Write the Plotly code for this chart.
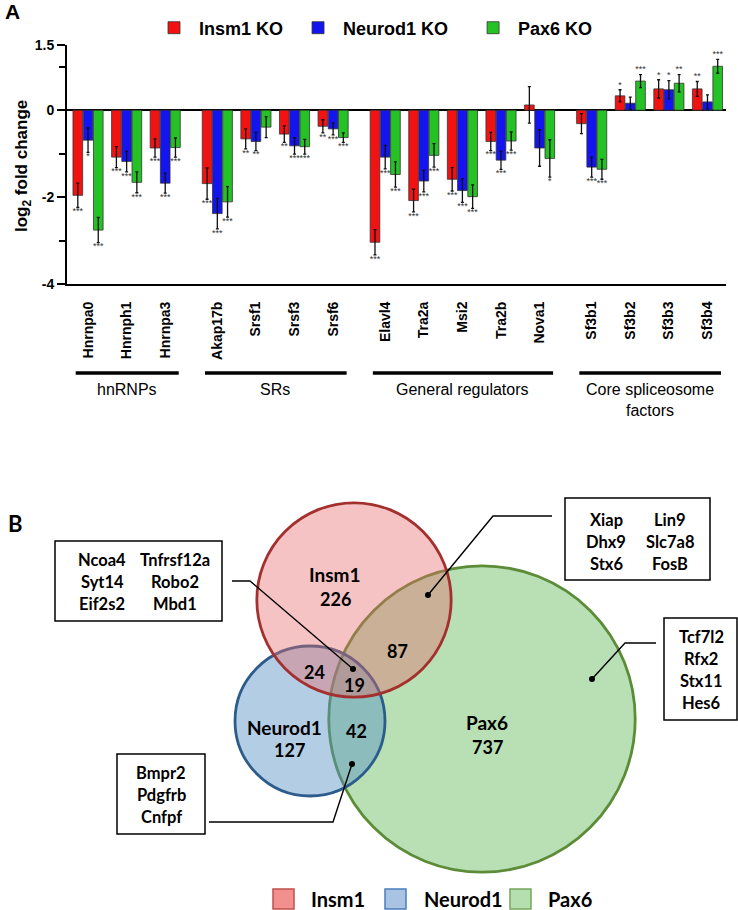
import numpy as np
import plotly.graph_objects as go

# ---- panel A data -------------------------------------------------------
genes = ["Hnrnpa0", "Hnrnph1", "Hnrnpa3",
         "Akap17b", "Srsf1", "Srsf3", "Srsf6",
         "Elavl4", "Tra2a", "Msi2", "Tra2b", "Nova1",
         "Sf3b1", "Sf3b2", "Sf3b3", "Sf3b4"]
group_names = ["hnRNPs", "SRs", "General regulators", "Core spliceosome<br>factors"]
group_sizes = [3, 4, 5, 4]

series_names = ["Insm1 KO", "Neurod1 KO", "Pax6 KO"]

insm1_lfc = [-1.96, -1.08, -0.87, -1.69, -0.66, -0.55, -0.37, -3.04, -2.08, -1.59, -0.72, 0.12, -0.31, 0.33, 0.49, 0.49]
insm1_err = [0.28, 0.24, 0.21, 0.36, 0.23, 0.19, 0.15, 0.29, 0.26, 0.27, 0.21, 0.42, 0.23, 0.14, 0.21, 0.17]
insm1_sig = ["***", "***", "***", "***", "**", "**", "**", "***", "***", "***", "***", "", "", "*", "*", "**"]

neurod1_lfc = [-0.69, -1.18, -1.68, -2.38, -0.72, -0.82, -0.43, -1.08, -1.63, -1.85, -1.15, -0.87, -1.31, 0.16, 0.47, 0.19]
neurod1_err = [0.28, 0.24, 0.23, 0.35, 0.21, 0.19, 0.14, 0.27, 0.25, 0.27, 0.21, 0.42, 0.23, 0.14, 0.21, 0.16]
neurod1_sig = ["*", "***", "***", "***", "**", "***", "***", "***", "***", "***", "***", "", "***", "", "*", ""]

pax6_lfc = [-2.76, -1.66, -0.86, -2.11, -0.39, -0.84, -0.63, -1.48, -1.04, -1.99, -0.71, -1.11, -1.36, 0.67, 0.62, 1.01]
pax6_err = [0.29, 0.24, 0.22, 0.35, 0.24, 0.17, 0.11, 0.29, 0.27, 0.27, 0.21, 0.43, 0.23, 0.15, 0.20, 0.16]
pax6_sig = ["***", "***", "***", "***", "", "***", "***", "***", "***", "***", "***", "*", "***", "***", "**", "***"]

y_ticks = [1.5, 0, -2, -4]
y_minor = [1, -1, -3]

# ---- panel B data -------------------------------------------------------
venn_sets = ["Insm1", "Neurod1", "Pax6"]
only_counts = [226, 127, 737]
pair_counts = {"Insm1&Neurod1": 24, "Insm1&Pax6": 87, "Neurod1&Pax6": 42}
triple_count = 19

genes_all_three = [["Ncoa4", "Syt14", "Eif2s2"], ["Tnfrsf12a", "Robo2", "Mbd1"]]
genes_insm1_pax6 = [["Xiap", "Dhx9", "Stx6"], ["Lin9", "Slc7a8", "FosB"]]
genes_pax6_only = [["Tcf7l2", "Rfx2", "Stx11", "Hes6"]]
genes_neurod1_pax6 = [["Bmpr2", "Pdgfrb", "Cnfpf"]]

# ---- style / layout constants ----------------------------------------------
W, H = 738, 910
ARIAL = "Liberation Sans, Arial, sans-serif"
CAL = "Lato, Open Sans, sans-serif"
bar_colors = ["#f21212", "#1414f0", "#25c225"]
bar_width = 0.25
bar_offsets = [-0.39, -0.125, 0.14]
group_gap = 0.35
NB = "\u00a0"
legend_pad = [2, 4, 0]

# x positions of the categories, with a gap between gene groups
positions = []
pos = 0.0
for size in group_sizes:
    for _ in range(size):
        positions.append(pos)
        pos += 1
    pos += group_gap
positions = np.array(positions)

def py(px):
    return 1 - px / H

fig = go.Figure()

lfcs = [insm1_lfc, neurod1_lfc, pax6_lfc]
errs = [insm1_err, neurod1_err, pax6_err]
sigs = [insm1_sig, neurod1_sig, pax6_sig]
for i, name in enumerate(series_names):
    fig.add_trace(go.Bar(
        x=positions, y=lfcs[i], name=f"<b>{NB}{name}{NB * legend_pad[i]}</b>",
        width=bar_width, offset=bar_offsets[i],
        marker=dict(color=bar_colors[i], line=dict(color="#333333", width=0.8)),
        error_y=dict(type="data", array=errs[i], color="#111111", thickness=1.3, width=1.5),
        xaxis="x", yaxis="y",
    ))
for i in range(3):
    v = np.array(lfcs[i])
    e = np.array(errs[i])
    ys = np.where(v < 0, v - e, v + e)
    fig.add_trace(go.Scatter(
        x=positions + bar_offsets[i] + bar_width / 2, y=ys, mode="text",
        text=[s if s else " " for s in sigs[i]],
        textposition=["bottom center" if a < 0 else "top center" for a in v],
        textfont=dict(size=9, color="#333333", family=ARIAL),
        showlegend=False, hoverinfo="skip", xaxis="x", yaxis="y",
    ))

x_lo = positions[0] - 0.545
x_hi = positions[-1] + 0.48

# group bars under the gene labels
shapes = []
annotations = []
start = 0
for gname, size in zip(group_names, group_sizes):
    first, last = positions[start], positions[start + size - 1]
    shapes.append(dict(type="line", xref="x", yref="paper", x0=first - 0.32, x1=last + 0.35,
                       y0=py(373), y1=py(373), line=dict(color="black", width=3.5)))
    annotations.append(dict(x=(first + last) / 2, y=py(379), xref="x", yref="paper",
                            text=gname, showarrow=False, yanchor="top",
                            font=dict(size=16, family=ARIAL, color="black")))
    start += size

annotations.append(dict(x=13 / W, y=py(12), xref="paper", yref="paper", text="<b>A</b>",
                        showarrow=False, xanchor="center", yanchor="middle",
                        font=dict(size=21, family=ARIAL, color="black")))
annotations.append(dict(x=15 / W, y=py(523), xref="paper", yref="paper", text="<b>B</b>",
                        showarrow=False, xanchor="center", yanchor="middle",
                        font=dict(size=22, family=CAL, color="black")))
annotations.append(dict(x=23 / W, y=py(166), xref="paper", yref="paper", textangle=-90,
                        xanchor="center", yanchor="middle",
                        text="<b>log<sub>2</sub> fold change</b>", showarrow=False,
                        font=dict(size=17, family=ARIAL, color="black")))

# ---- Venn (panel B), drawn on a page-pixel overlay axis --------------------
totals = [
    only_counts[0] + pair_counts["Insm1&Neurod1"] + pair_counts["Insm1&Pax6"] + triple_count,
    only_counts[1] + pair_counts["Insm1&Neurod1"] + pair_counts["Neurod1&Pax6"] + triple_count,
    only_counts[2] + pair_counts["Insm1&Pax6"] + pair_counts["Neurod1&Pax6"] + triple_count,
]
area_scale = 5.15  # px per sqrt(count)
radii = [area_scale * np.sqrt(t) for t in totals]

centers = {"Insm1": (354, 600), "Neurod1": (310, 721), "Pax6": (482, 719)}
fills = {"Insm1": "rgba(230,105,105,0.40)", "Neurod1": "rgba(86,144,198,0.45)", "Pax6": "rgb(184,224,180)"}
edges = {"Insm1": "#a3302e", "Neurod1": "#2c5c8c", "Pax6": "#5c8c38"}
for s in ["Pax6", "Neurod1", "Insm1"]:
    r = radii[venn_sets.index(s)]
    cx, cy = centers[s]
    shapes.append(dict(type="circle", xref="x2", yref="y2", x0=cx - r, x1=cx + r,
                       y0=cy - r, y1=cy + r, fillcolor=fills[s],
                       line=dict(color=edges[s], width=2.8), layer="below"))

name_pos = {"Insm1": (335, 574), "Neurod1": (284, 727), "Pax6": (487, 722)}
count_pos = {"Insm1": (335, 599), "Neurod1": (289, 750), "Pax6": (487, 747)}
for s, c in zip(venn_sets, only_counts):
    x, y = name_pos[s]
    annotations.append(dict(x=x, y=y, xref="x2", yref="y2", text=f"<b>{s}</b>", showarrow=False,
                            font=dict(size=19, family=CAL, color="black")))
    x, y = count_pos[s]
    annotations.append(dict(x=x, y=y, xref="x2", yref="y2", text=f"<b>{c}</b>", showarrow=False,
                            font=dict(size=18, family=CAL, color="black")))
region_pos = {"Insm1&Neurod1": (314, 672), "Insm1&Pax6": (397, 651), "Neurod1&Pax6": (356, 731)}
for k, c in pair_counts.items():
    x, y = region_pos[k]
    annotations.append(dict(x=x, y=y, xref="x2", yref="y2", text=f"<b>{c}</b>", showarrow=False,
                            font=dict(size=18, family=CAL, color="black")))
annotations.append(dict(x=354, y=685, xref="x2", yref="y2", text=f"<b>{triple_count}</b>",
                        showarrow=False, font=dict(size=18, family=CAL, color="black")))

# callout boxes: box rect, column centres, first row y, leader path, anchor dot
callouts = [
    (genes_all_three, (55, 541, 222, 621), [102, 175], 560, [(232, 581), (250, 581), (353, 669)]),
    (genes_insm1_pax6, (565, 498, 710, 580), [606, 670], 520, [(552, 516), (493, 516), (428, 595)]),
    (genes_pax6_only, (664, 618, 737, 720), [701], 637, [(656, 643), (625, 643), (592, 679)]),
    (genes_neurod1_pax6, (117, 754, 205, 834), [161], 773, [(209, 822), (333, 822), (352, 764)]),
]
dot_x, dot_y = [], []
for cols, (x0, y0, x1, y1), col_x, row_y, path in callouts:
    shapes.append(dict(type="rect", xref="x2", yref="y2", x0=x0, y0=y0, x1=x1, y1=y1,
                       fillcolor="white", line=dict(color="black", width=1.5)))
    for names, cxp in zip(cols, col_x):
        for j, g in enumerate(names):
            annotations.append(dict(x=cxp, y=row_y + j * 22, xref="x2", yref="y2",
                                    text=f"<b>{g}</b>", showarrow=False,
                                    font=dict(size=16.5, family=CAL, color="black")))
    d = "M " + " L ".join(f"{px},{pyy}" for px, pyy in path)
    shapes.append(dict(type="path", xref="x2", yref="y2", path=d,
                       line=dict(color="black", width=1.4)))
    dot_x.append(path[-1][0])
    dot_y.append(path[-1][1])

fig.add_trace(go.Scatter(x=dot_x, y=dot_y, mode="markers", marker=dict(size=6, color="black"),
                         showlegend=False, hoverinfo="skip", xaxis="x2", yaxis="y2"))

# Venn legend
leg_fill = ["#f29090", "#a8c4e2", "#b5dfae"]
leg_edge = ["#c0504d", "#4a7ebb", "#77a65a"]
leg_box_x = [273, 385, 510]
leg_text_x = [338, 463, 570]
for s, f, e, bx, tx in zip(venn_sets, leg_fill, leg_edge, leg_box_x, leg_text_x):
    shapes.append(dict(type="rect", xref="x2", yref="y2", x0=bx, x1=bx + 21, y0=889, y1=909,
                       fillcolor=f, line=dict(color=e, width=1.5)))
    annotations.append(dict(x=tx, y=899, xref="x2", yref="y2", text=f"<b>{s}</b>", showarrow=False,
                            font=dict(size=20, family=CAL, color="black")))

fig.update_layout(
    width=W, height=H,
    template="none",
    margin=dict(l=0, r=0, t=0, b=0),
    paper_bgcolor="white", plot_bgcolor="rgba(0,0,0,0)",
    font=dict(family=ARIAL, color="black"),
    barmode="overlay",
    showlegend=True,
    legend=dict(orientation="h", x=154 / W, xanchor="left", y=py(28), yanchor="middle",
                font=dict(size=18, family=ARIAL, color="black"), bgcolor="rgba(0,0,0,0)",
                traceorder="normal", itemwidth=30),
    xaxis=dict(domain=[67 / W, 726 / W], range=[x_lo, x_hi], anchor="y",
               tickvals=positions, ticktext=[f"<b>{g}</b>" for g in genes], tickangle=-90,
               tickfont=dict(size=14, family=ARIAL, color="black"), ticks="",
               showline=True, linecolor="black", linewidth=2, showgrid=False, zeroline=False,
               ticklabelstandoff=10, automargin=False),
    yaxis=dict(domain=[py(284), py(45)], range=[-4, 1.5], anchor="x",
               tickvals=y_ticks, ticktext=[f"<b>{t:g}</b>" for t in y_ticks],
               tickfont=dict(size=14, family=ARIAL, color="black"),
               ticks="outside", ticklen=8, tickwidth=2, tickcolor="black",
               minor=dict(tickvals=y_minor, ticks="outside", ticklen=6, tickwidth=2, tickcolor="black"),
               showline=True, linecolor="black", linewidth=2, showgrid=False,
               zeroline=True, zerolinecolor="black", zerolinewidth=2,
               automargin=False),
    xaxis2=dict(domain=[0, 1], range=[0, W], anchor="y2", visible=False, fixedrange=True),
    yaxis2=dict(domain=[0, 1], range=[H, 0], anchor="x2", visible=False, fixedrange=True),
    shapes=shapes,
    annotations=annotations,
)

fig.write_html("out.html", config={"displayModeBar": False},
               post_script="document.body.style.margin='0px';")
